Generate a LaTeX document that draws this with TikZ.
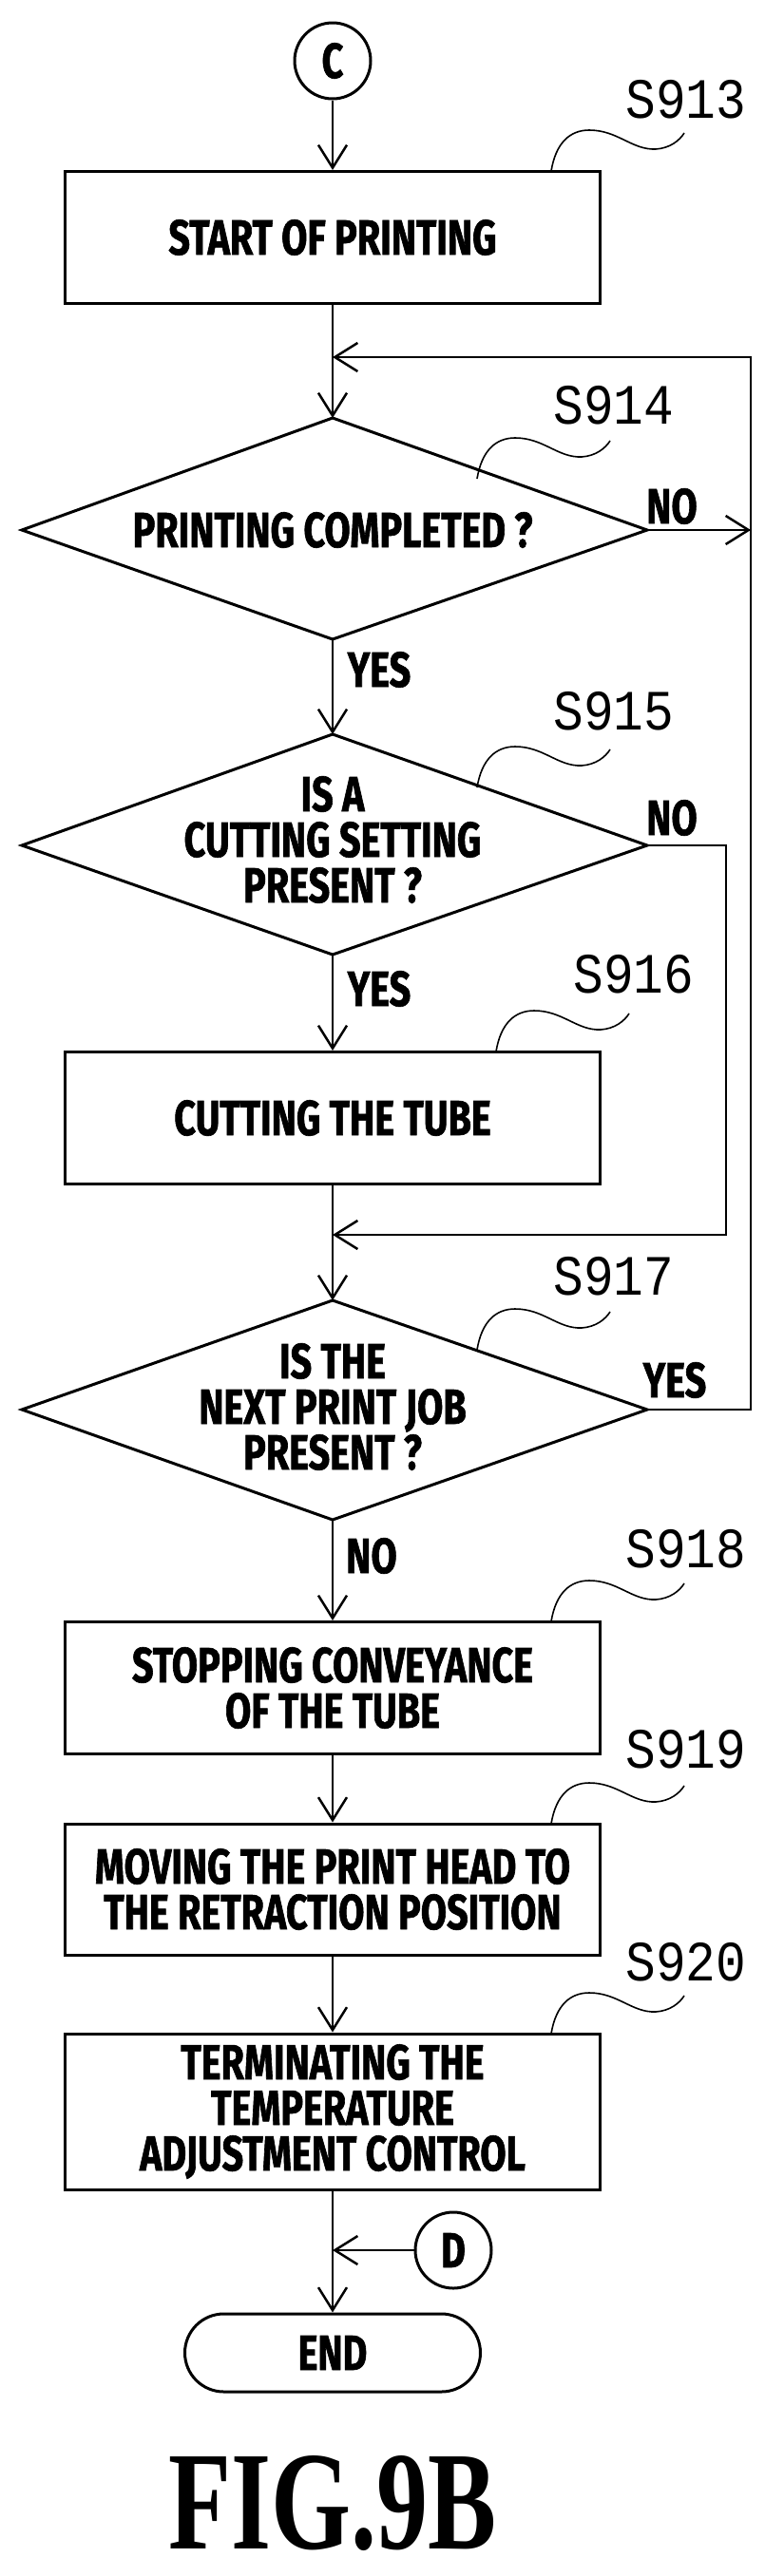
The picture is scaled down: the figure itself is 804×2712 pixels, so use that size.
\documentclass[tikz,border=0pt]{standalone}
\usepackage{fontspec}
\usetikzlibrary{arrows.meta}
\newfontfamily\labf[FakeStretch=0.76,FakeBold=1.2]{Fira Sans}
\newfontfamily\stepf[FakeStretch=0.88]{Liberation Mono}
\newfontfamily\figf[FakeStretch=0.73]{Liberation Serif}
\tikzset{
  box/.style={draw,line width=3pt,minimum width=563pt,align=center,font=\labf\bfseries\fontsize{52}{48}\selectfont,inner sep=0pt},
  txt/.style={align=center,font=\labf\bfseries\fontsize{52}{48}\selectfont,inner sep=0pt},
  yn/.style={font=\labf\bfseries\fontsize{52}{48}\selectfont,inner sep=0pt},
  sl/.style={font=\stepf\fontsize{60}{60}\selectfont,inner sep=0pt},
  conn/.style={draw,circle,line width=3pt,minimum size=80pt,inner sep=0pt,font=\labf\bfseries\fontsize{52}{48}\selectfont},
  dia/.style={line width=3pt,line join=miter},
  arr/.style={line width=2.5pt,-{Straight Barb[length=24pt,width=30pt,line width=2.5pt]}},
}
\newcommand{\leader}[1]{\draw[line width=1.6pt,shift={(#1)}] (0,0) .. controls (5,-30) and (20,-43) .. (40,-43) .. controls (70,-43) and (85,-22) .. (110,-23) .. controls (125,-24) and (135,-32) .. (140,-40);}
\begin{document}
\begin{tikzpicture}[x=1pt,y=-1pt]
\useasboundingbox (0,0) rectangle (804,2712);
\node[conn] (C) at (350,64) {C};
\node[box,minimum height=139pt] (b913) at (350,250) {START OF PRINTING};
\coordinate (m1) at (350,376);
% D1
\coordinate (d1t) at (350,440); \coordinate (d1b) at (350,673);
\coordinate (d1l) at (23,558); \coordinate (d1r) at (681,558);
\draw[dia] (d1t)--(d1r)--(d1b)--(d1l)--cycle;
\node[txt] (d1) at (350,558) {PRINTING COMPLETED ?};
% D2
\coordinate (d2t) at (350,773); \coordinate (d2b) at (350,1005);
\coordinate (d2l) at (23,890); \coordinate (d2r) at (681,890);
\draw[dia] (d2t)--(d2r)--(d2b)--(d2l)--cycle;
\node[txt] (d2) at (350,884) {IS A\\CUTTING SETTING\\PRESENT ?};
\node[box,minimum height=139pt] (b916) at (350,1177) {CUTTING THE TUBE};
\coordinate (m2) at (350,1300);
% D3
\coordinate (d3t) at (350,1369); \coordinate (d3b) at (350,1600);
\coordinate (d3l) at (23,1484); \coordinate (d3r) at (681,1484);
\draw[dia] (d3t)--(d3r)--(d3b)--(d3l)--cycle;
\node[txt] (d3) at (350,1481) {IS THE\\NEXT PRINT JOB\\PRESENT ?};
\node[box,minimum height=139pt] (b918) at (350,1777) {STOPPING CONVEYANCE\\OF THE TUBE};
\node[box,minimum height=138pt] (b919) at (350,1989) {MOVING THE PRINT HEAD TO\\THE RETRACTION POSITION};
\node[box,minimum height=164pt] (b920) at (350,2223) {TERMINATING THE\\TEMPERATURE\\ADJUSTMENT CONTROL};
\node[conn] (D) at (477,2369) {D};
\coordinate (mD) at (350,2369);
\node[draw,line width=3pt,rounded corners=41pt,minimum width=311pt,minimum height=82pt,font=\labf\bfseries\fontsize{52}{48}\selectfont] (end) at (350,2477) {END};
\node[font=\figf\bfseries\fontsize{148}{148}\selectfont,inner sep=0pt] (fig) at (350,2636) {FIG.9B};
% connectors
\draw[arr] (C) -- (b913);
\draw[arr] (b913) -- (d1t);
\draw[arr] (d1b) -- (d2t);
\draw[arr] (d2b) -- (b916);
\draw[arr] (b916) -- (d3t);
\draw[arr] (d3b) -- (b918);
\draw[arr] (b918) -- (b919);
\draw[arr] (b919) -- (b920);
\draw[arr] (b920) -- (end);
\coordinate (r1) at (790,558);
\draw[arr] (d1r) -- (r1);
\draw[arr] (d3r) -- (790,1484) -- (790,376) -- (m1);
\draw[arr] (d2r) -- (764,890) -- (764,1300) -- (m2);
\draw[arr] (D) -- (mD);
% labels
\node[yn] (no1) at (707,533) {NO};
\node[yn] (yes1) at (399,705) {YES};
\node[yn] (no2) at (707,861) {NO};
\node[yn] (yes2) at (399,1041) {YES};
\node[yn] (yes3) at (710,1453) {YES};
\node[yn] (no3) at (391,1638) {NO};
\node[sl] (s913) at (722,105) {S913};
\node[sl] (s914) at (646,427) {S914};
\node[sl] (s915) at (646,749) {S915};
\node[sl] (s916) at (667,1026) {S916};
\node[sl] (s917) at (646,1344) {S917};
\node[sl] (s918) at (722,1631) {S918};
\node[sl] (s919) at (722,1842) {S919};
\node[sl] (s920) at (722,2066) {S920};
\leader{580,180}
\leader{502,504}
\leader{502,829}
\leader{522,1107}
\leader{502,1421}
\leader{580,1707}
\leader{580,1920}
\leader{580,2141}
\end{tikzpicture}
\end{document}
